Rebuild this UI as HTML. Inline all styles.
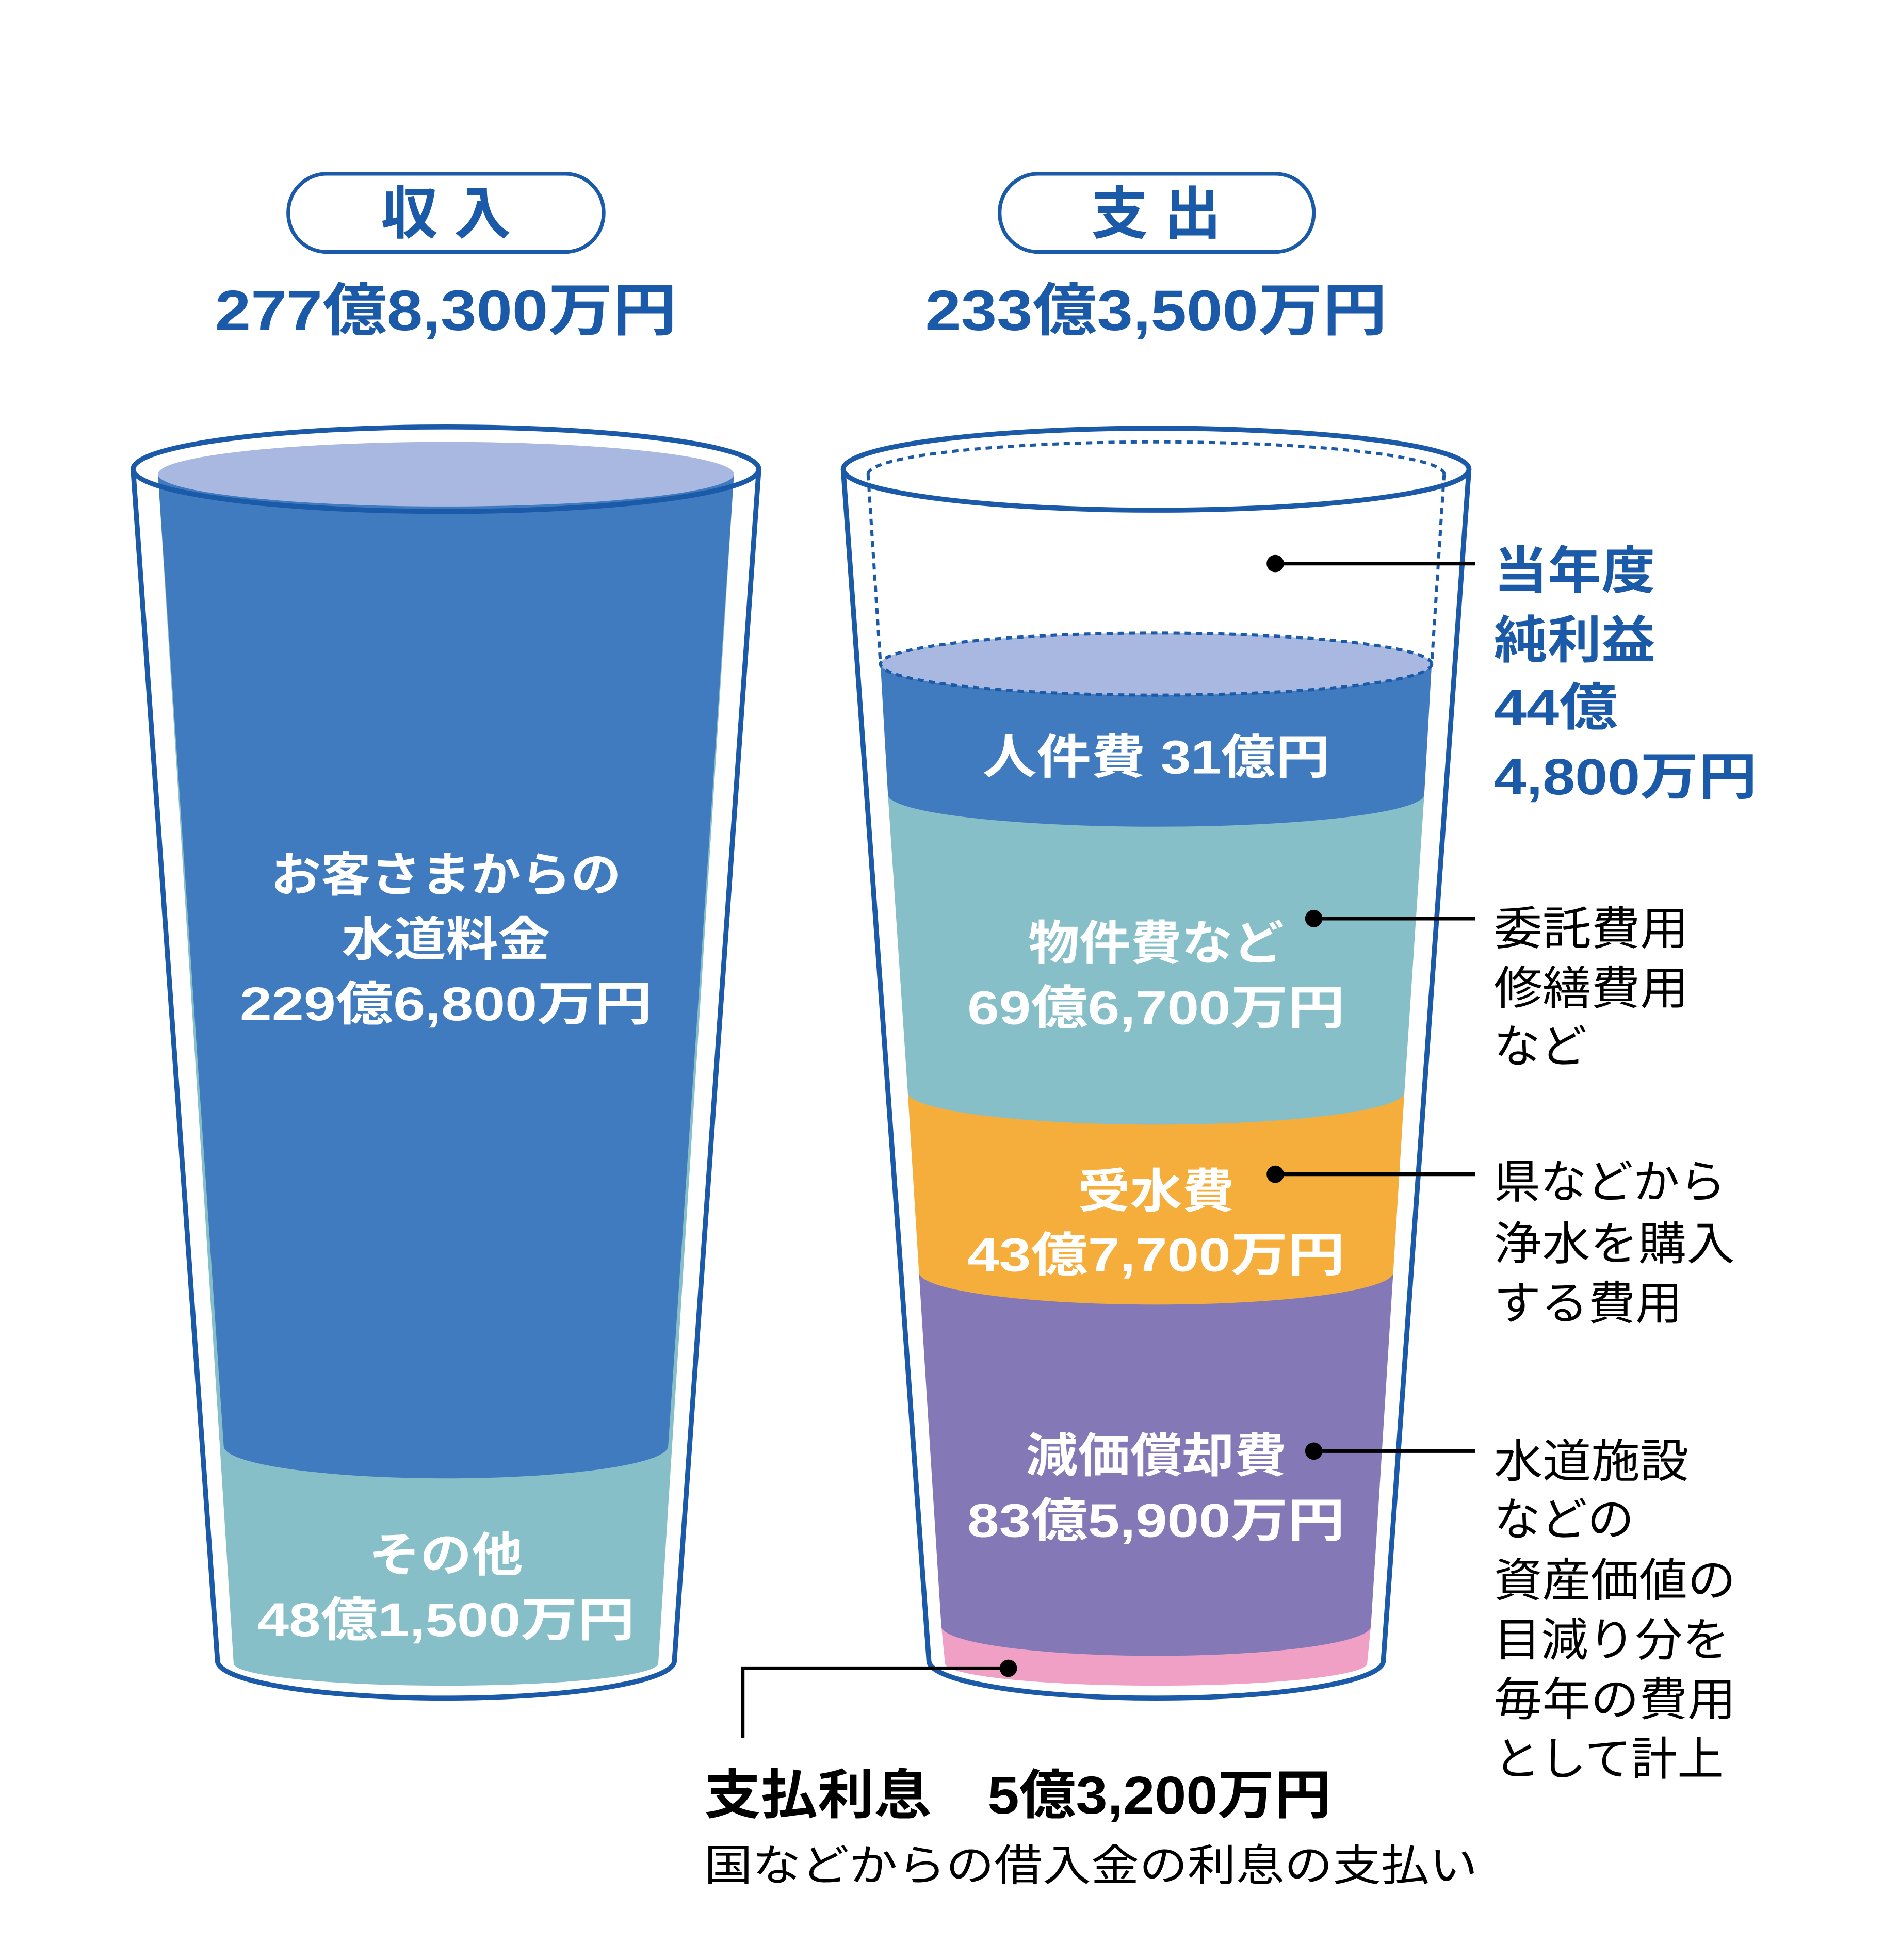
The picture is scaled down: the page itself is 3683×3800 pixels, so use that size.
<!DOCTYPE html>
<html><head><meta charset="utf-8"><style>
html,body{margin:0;padding:0;background:#fff}
svg{display:block}
text{font-family:"Liberation Sans","Noto Sans CJK JP",sans-serif}
</style></head><body>
<svg width="3683" height="3800" viewBox="0 0 1530 1579" xmlns="http://www.w3.org/2000/svg">
<rect width="1530" height="1579" fill="#fff"/>
<!-- Titles -->
<rect x="232" y="140" width="254" height="63" rx="31" fill="#fff" stroke="#1a5aa8" stroke-width="3"/>
<text x="359" y="188" text-anchor="middle" font-size="46" font-weight="bold" fill="#1a5aa8">収 入</text>
<text x="173" y="266" textLength="372" lengthAdjust="spacingAndGlyphs" font-size="46" font-weight="bold" fill="#1a5aa8">277億8,300万円</text>
<rect x="805" y="140" width="253" height="63" rx="31" fill="#fff" stroke="#1a5aa8" stroke-width="3"/>
<text x="931" y="188" text-anchor="middle" font-size="46" font-weight="bold" fill="#1a5aa8">支 出</text>
<text x="745" y="266" textLength="372" lengthAdjust="spacingAndGlyphs" font-size="46" font-weight="bold" fill="#1a5aa8">233億3,500万円</text>

<!-- Left glass liquid -->
<path d="M127 382 L188 1340 A171 18 0 0 0 530 1340 L591 382 Z" fill="#87bfc9"/>
<path d="M127 382 L180 1165 A179 26 0 0 0 538 1165 L591 382 Z" fill="#417bbf"/>
<ellipse cx="359" cy="382" rx="232" ry="26" fill="#a8b8e0"/>
<ellipse cx="359" cy="378" rx="252" ry="34" fill="none" stroke="#1a5aa8" stroke-width="4"/>
<path d="M107 378 L175 1338 A184 30 0 0 0 543 1338 L611 378" fill="none" stroke="#1a5aa8" stroke-width="4"/>
<g fill="#fff" font-size="38" font-weight="bold">
<text x="218" y="718" textLength="282" lengthAdjust="spacingAndGlyphs">お客さまからの</text>
<text x="275" y="770" textLength="168" lengthAdjust="spacingAndGlyphs">水道料金</text>
<text x="193" y="822" textLength="332" lengthAdjust="spacingAndGlyphs">229億6,800万円</text>
<text x="297" y="1266" textLength="124" lengthAdjust="spacingAndGlyphs">その他</text>
<text x="207" y="1318" textLength="304" lengthAdjust="spacingAndGlyphs">48億1,500万円</text>
</g>

<!-- Right glass liquid -->
<path d="M758 1310 L761 1340 A170 18 0 0 0 1101 1340 L1104 1310 Z" fill="#f0a0c4"/>
<path d="M740 1025 L758 1310 A173 24 0 0 0 1104 1310 L1122 1025 Z" fill="#8479b6"/>
<path d="M731 880 L740 1025 A191 26 0 0 0 1122 1025 L1131 880 Z" fill="#f5ad3b"/>
<path d="M715 640 L731 880 A200 26 0 0 0 1131 880 L1147 640 Z" fill="#87bfc9"/>
<path d="M709 535 L715 640 A216 26 0 0 0 1147 640 L1153 535 Z" fill="#417bbf"/>
<ellipse cx="931" cy="535" rx="222" ry="25" fill="#a8b8e0" stroke="#1a5aa8" stroke-width="2.5" stroke-dasharray="5 4"/>
<path d="M699 382 A232 26 0 0 1 1163 382 M699 382 L709 535 M1163 382 L1153 535" fill="none" stroke="#1a5aa8" stroke-width="2.5" stroke-dasharray="5 4"/>
<ellipse cx="931" cy="378" rx="252" ry="33" fill="none" stroke="#1a5aa8" stroke-width="4"/>
<path d="M679 378 L748 1338 A183 30 0 0 0 1114 1338 L1183 378" fill="none" stroke="#1a5aa8" stroke-width="4"/>
<g fill="#fff" font-size="38" font-weight="bold">
<text x="791" y="623" textLength="280" lengthAdjust="spacingAndGlyphs">人件費 31億円</text>
<text x="828" y="773" textLength="206" lengthAdjust="spacingAndGlyphs">物件費など</text>
<text x="779" y="825" textLength="304" lengthAdjust="spacingAndGlyphs">69億6,700万円</text>
<text x="868" y="973" textLength="126" lengthAdjust="spacingAndGlyphs">受水費</text>
<text x="779" y="1024" textLength="304" lengthAdjust="spacingAndGlyphs">43億7,700万円</text>
<text x="826" y="1186" textLength="210" lengthAdjust="spacingAndGlyphs">減価償却費</text>
<text x="779" y="1238" textLength="304" lengthAdjust="spacingAndGlyphs">83億5,900万円</text>
</g>

<!-- Annotations -->
<g stroke="#000" stroke-width="3" fill="none">
<line x1="1027" y1="454" x2="1188" y2="454"/>
<line x1="1058" y1="740" x2="1188" y2="740"/>
<line x1="1027" y1="946" x2="1188" y2="946"/>
<line x1="1058" y1="1169" x2="1188" y2="1169"/>
<path d="M812 1344 L598 1344 L598 1400"/>
</g>
<g fill="#000">
<circle cx="1027" cy="454" r="7"/><circle cx="1058" cy="740" r="7"/>
<circle cx="1027" cy="946" r="7"/><circle cx="1058" cy="1169" r="7"/>
<circle cx="812" cy="1344" r="7"/>
</g>
<g fill="#1a5aa8" font-size="41" font-weight="bold">
<text x="1203" y="474" textLength="130" lengthAdjust="spacingAndGlyphs">当年度</text>
<text x="1203" y="530" textLength="130" lengthAdjust="spacingAndGlyphs">純利益</text>
<text x="1203" y="584" textLength="100" lengthAdjust="spacingAndGlyphs">44億</text>
<text x="1203" y="640" textLength="212" lengthAdjust="spacingAndGlyphs">4,800万円</text>
</g>
<g fill="#000" font-size="37">
<text x="1203" y="761" textLength="157" lengthAdjust="spacingAndGlyphs">委託費用</text>
<text x="1203" y="809" textLength="157" lengthAdjust="spacingAndGlyphs">修繕費用</text>
<text x="1203" y="856" textLength="75" lengthAdjust="spacingAndGlyphs">など</text>
<text x="1203" y="965" textLength="187" lengthAdjust="spacingAndGlyphs">県などから</text>
<text x="1203" y="1015" textLength="194" lengthAdjust="spacingAndGlyphs">浄水を購入</text>
<text x="1203" y="1063" textLength="152" lengthAdjust="spacingAndGlyphs">する費用</text>
<text x="1203" y="1190" textLength="157" lengthAdjust="spacingAndGlyphs">水道施設</text>
<text x="1203" y="1237" textLength="113" lengthAdjust="spacingAndGlyphs">などの</text>
<text x="1203" y="1286" textLength="195" lengthAdjust="spacingAndGlyphs">資産価値の</text>
<text x="1203" y="1334" textLength="190" lengthAdjust="spacingAndGlyphs">目減り分を</text>
<text x="1203" y="1382" textLength="195" lengthAdjust="spacingAndGlyphs">毎年の費用</text>
<text x="1203" y="1430" textLength="185" lengthAdjust="spacingAndGlyphs">として計上</text>
<text x="567" y="1515" font-size="35" textLength="623" lengthAdjust="spacingAndGlyphs">国などからの借入金の利息の支払い</text>
</g>
<text x="567" y="1461" font-size="43" font-weight="bold" fill="#000" textLength="505" lengthAdjust="spacingAndGlyphs">支払利息　5億3,200万円</text>
</svg>
</body></html>
